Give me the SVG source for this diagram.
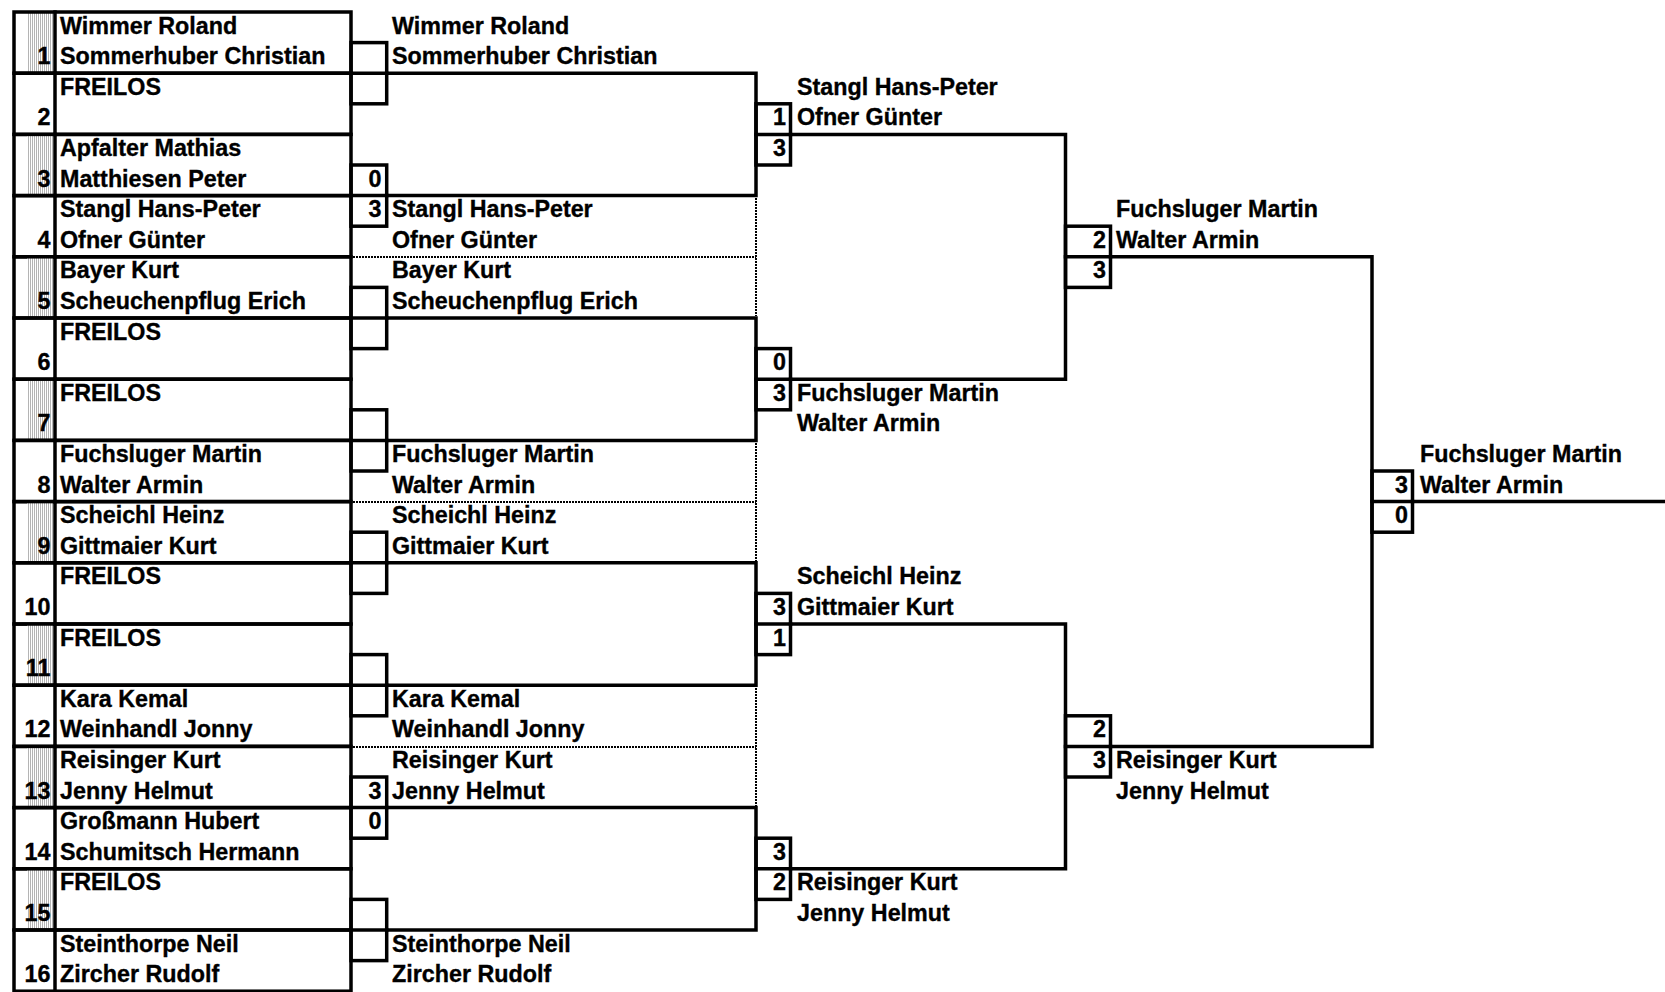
<svg xmlns="http://www.w3.org/2000/svg" width="1665" height="992" viewBox="0 0 1665 992">
<defs>
<pattern id="hatch" patternUnits="userSpaceOnUse" width="2" height="2">
<rect width="2" height="2" fill="#ffffff"/>
<rect width="1" height="2" fill="#b4b4b4"/>
</pattern>
</defs>
<style>
text { font-family: "Liberation Sans", Arial, sans-serif; font-weight: bold; font-size: 23.3px; fill: #000; stroke: #000; stroke-width: 0.35px; }
.num, .sc { text-anchor: end; }
.ln { stroke: #000; stroke-width: 3.5; fill: none; stroke-linecap: square; }
.dot { stroke: #000; stroke-width: 2; stroke-dasharray: 2 1; fill: none; }
.shade { fill: url(#hatch); }
</style>
<rect width="1665" height="992" fill="#fff"/>

<g id="players">
<g id="p1"><rect class="shade" x="27" y="12" width="26" height="61.2"/><rect class="ln" x="14" y="12" width="337" height="61.2"/><line class="ln" x1="55" y1="12" x2="55" y2="73.2"/><text class="num" x="50.5" y="64.1">1</text><text x="60" y="33.5">Wimmer Roland</text><text x="60" y="64.1">Sommerhuber Christian</text></g>
<g id="p2"><rect class="ln" x="14" y="73.2" width="337" height="61.2"/><line class="ln" x1="55" y1="73.2" x2="55" y2="134.4"/><text class="num" x="50.5" y="125.3">2</text><text x="60" y="94.7">FREILOS</text></g>
<g id="p3"><rect class="shade" x="27" y="134.4" width="26" height="61.2"/><rect class="ln" x="14" y="134.4" width="337" height="61.2"/><line class="ln" x1="55" y1="134.4" x2="55" y2="195.6"/><text class="num" x="50.5" y="186.5">3</text><text x="60" y="155.9">Apfalter Mathias</text><text x="60" y="186.5">Matthiesen Peter</text></g>
<g id="p4"><rect class="ln" x="14" y="195.6" width="337" height="61.2"/><line class="ln" x1="55" y1="195.6" x2="55" y2="256.8"/><text class="num" x="50.5" y="247.7">4</text><text x="60" y="217.1">Stangl Hans-Peter</text><text x="60" y="247.7">Ofner Günter</text></g>
<g id="p5"><rect class="shade" x="27" y="256.8" width="26" height="61.2"/><rect class="ln" x="14" y="256.8" width="337" height="61.2"/><line class="ln" x1="55" y1="256.8" x2="55" y2="318"/><text class="num" x="50.5" y="308.9">5</text><text x="60" y="278.3">Bayer Kurt</text><text x="60" y="308.9">Scheuchenpflug Erich</text></g>
<g id="p6"><rect class="ln" x="14" y="318" width="337" height="61.2"/><line class="ln" x1="55" y1="318" x2="55" y2="379.2"/><text class="num" x="50.5" y="370.1">6</text><text x="60" y="339.5">FREILOS</text></g>
<g id="p7"><rect class="shade" x="27" y="379.2" width="26" height="61.2"/><rect class="ln" x="14" y="379.2" width="337" height="61.2"/><line class="ln" x1="55" y1="379.2" x2="55" y2="440.4"/><text class="num" x="50.5" y="431.3">7</text><text x="60" y="400.7">FREILOS</text></g>
<g id="p8"><rect class="ln" x="14" y="440.4" width="337" height="61.2"/><line class="ln" x1="55" y1="440.4" x2="55" y2="501.6"/><text class="num" x="50.5" y="492.5">8</text><text x="60" y="461.9">Fuchsluger Martin</text><text x="60" y="492.5">Walter Armin</text></g>
<g id="p9"><rect class="shade" x="27" y="501.6" width="26" height="61.2"/><rect class="ln" x="14" y="501.6" width="337" height="61.2"/><line class="ln" x1="55" y1="501.6" x2="55" y2="562.8"/><text class="num" x="50.5" y="553.7">9</text><text x="60" y="523.1">Scheichl Heinz</text><text x="60" y="553.7">Gittmaier Kurt</text></g>
<g id="p10"><rect class="ln" x="14" y="562.8" width="337" height="61.2"/><line class="ln" x1="55" y1="562.8" x2="55" y2="624"/><text class="num" x="50.5" y="614.9">10</text><text x="60" y="584.3">FREILOS</text></g>
<g id="p11"><rect class="shade" x="27" y="624" width="26" height="61.2"/><rect class="ln" x="14" y="624" width="337" height="61.2"/><line class="ln" x1="55" y1="624" x2="55" y2="685.2"/><text class="num" x="50.5" y="676.1">11</text><text x="60" y="645.5">FREILOS</text></g>
<g id="p12"><rect class="ln" x="14" y="685.2" width="337" height="61.2"/><line class="ln" x1="55" y1="685.2" x2="55" y2="746.4"/><text class="num" x="50.5" y="737.3">12</text><text x="60" y="706.7">Kara Kemal</text><text x="60" y="737.3">Weinhandl Jonny</text></g>
<g id="p13"><rect class="shade" x="27" y="746.4" width="26" height="61.2"/><rect class="ln" x="14" y="746.4" width="337" height="61.2"/><line class="ln" x1="55" y1="746.4" x2="55" y2="807.6"/><text class="num" x="50.5" y="798.5">13</text><text x="60" y="767.9">Reisinger Kurt</text><text x="60" y="798.5">Jenny Helmut</text></g>
<g id="p14"><rect class="ln" x="14" y="807.6" width="337" height="61.2"/><line class="ln" x1="55" y1="807.6" x2="55" y2="868.8"/><text class="num" x="50.5" y="859.7">14</text><text x="60" y="829.1">Großmann Hubert</text><text x="60" y="859.7">Schumitsch Hermann</text></g>
<g id="p15"><rect class="shade" x="27" y="868.8" width="26" height="61.2"/><rect class="ln" x="14" y="868.8" width="337" height="61.2"/><line class="ln" x1="55" y1="868.8" x2="55" y2="930"/><text class="num" x="50.5" y="920.9">15</text><text x="60" y="890.3">FREILOS</text></g>
<g id="p16"><rect class="ln" x="14" y="930" width="337" height="61.2"/><line class="ln" x1="55" y1="930" x2="55" y2="991.2"/><text class="num" x="50.5" y="982.1">16</text><text x="60" y="951.5">Steinthorpe Neil</text><text x="60" y="982.1">Zircher Rudolf</text></g>
</g>

<g id="connectors">
<path class="ln" d="M386.7 73.2 H756 V195.6 H386.7"/>
<path class="ln" d="M386.7 318 H756 V440.4 H386.7"/>
<path class="ln" d="M386.7 562.8 H756 V685.2 H386.7"/>
<path class="ln" d="M386.7 807.6 H756 V930 H386.7"/>
<path class="ln" d="M790.5 134.4 H1065.5 V379.2 H790.5"/>
<path class="ln" d="M790.5 624 H1065.5 V868.8 H790.5"/>
<path class="ln" d="M1110.5 256.8 H1372 V746.4 H1110.5"/>
<path class="ln" d="M1412.5 501.6 H1665"/>
<path class="dot" d="M756 198 V316 M353 257 H756"/>
<path class="dot" d="M756 443 V561 M353 502 H756"/>
<path class="dot" d="M756 688 V806 M353 747 H756"/>
</g>

<g id="round1">
<g id="r1m1"><rect class="ln" x="351" y="42.6" width="35.7" height="61.2"/><line class="ln" x1="351" y1="73.2" x2="386.7" y2="73.2"/></g>
<g id="r1m2"><rect class="ln" x="351" y="165" width="35.7" height="61.2"/><line class="ln" x1="351" y1="195.6" x2="386.7" y2="195.6"/><text class="sc" x="381.5" y="186.5">0</text><text class="sc" x="381.5" y="217.1">3</text></g>
<g id="r1m3"><rect class="ln" x="351" y="287.4" width="35.7" height="61.2"/><line class="ln" x1="351" y1="318" x2="386.7" y2="318"/></g>
<g id="r1m4"><rect class="ln" x="351" y="409.8" width="35.7" height="61.2"/><line class="ln" x1="351" y1="440.4" x2="386.7" y2="440.4"/></g>
<g id="r1m5"><rect class="ln" x="351" y="532.2" width="35.7" height="61.2"/><line class="ln" x1="351" y1="562.8" x2="386.7" y2="562.8"/></g>
<g id="r1m6"><rect class="ln" x="351" y="654.6" width="35.7" height="61.2"/><line class="ln" x1="351" y1="685.2" x2="386.7" y2="685.2"/></g>
<g id="r1m7"><rect class="ln" x="351" y="777" width="35.7" height="61.2"/><line class="ln" x1="351" y1="807.6" x2="386.7" y2="807.6"/><text class="sc" x="381.5" y="798.5">3</text><text class="sc" x="381.5" y="829.1">0</text></g>
<g id="r1m8"><rect class="ln" x="351" y="899.4" width="35.7" height="61.2"/><line class="ln" x1="351" y1="930" x2="386.7" y2="930"/></g>
</g>

<g id="round1-winners">
<g id="w1a"><text x="392" y="33.5">Wimmer Roland</text><text x="392" y="64.1">Sommerhuber Christian</text></g>
<g id="w1b"><text x="392" y="217.1">Stangl Hans-Peter</text><text x="392" y="247.7">Ofner Günter</text></g>
<g id="w1c"><text x="392" y="278.3">Bayer Kurt</text><text x="392" y="308.9">Scheuchenpflug Erich</text></g>
<g id="w1d"><text x="392" y="461.9">Fuchsluger Martin</text><text x="392" y="492.5">Walter Armin</text></g>
<g id="w1e"><text x="392" y="523.1">Scheichl Heinz</text><text x="392" y="553.7">Gittmaier Kurt</text></g>
<g id="w1f"><text x="392" y="706.7">Kara Kemal</text><text x="392" y="737.3">Weinhandl Jonny</text></g>
<g id="w1g"><text x="392" y="767.9">Reisinger Kurt</text><text x="392" y="798.5">Jenny Helmut</text></g>
<g id="w1h"><text x="392" y="951.5">Steinthorpe Neil</text><text x="392" y="982.1">Zircher Rudolf</text></g>
</g>

<g id="round2">
<g id="r2m1"><rect class="ln" x="756" y="103.8" width="34.5" height="61.2"/><line class="ln" x1="756" y1="134.4" x2="790.5" y2="134.4"/><text class="sc" x="786" y="125.3">1</text><text class="sc" x="786" y="155.9">3</text><text x="797" y="94.7">Stangl Hans-Peter</text><text x="797" y="125.3">Ofner Günter</text></g>
<g id="r2m2"><rect class="ln" x="756" y="348.6" width="34.5" height="61.2"/><line class="ln" x1="756" y1="379.2" x2="790.5" y2="379.2"/><text class="sc" x="786" y="370.1">0</text><text class="sc" x="786" y="400.7">3</text><text x="797" y="400.7">Fuchsluger Martin</text><text x="797" y="431.3">Walter Armin</text></g>
<g id="r2m3"><rect class="ln" x="756" y="593.4" width="34.5" height="61.2"/><line class="ln" x1="756" y1="624" x2="790.5" y2="624"/><text class="sc" x="786" y="614.9">3</text><text class="sc" x="786" y="645.5">1</text><text x="797" y="584.3">Scheichl Heinz</text><text x="797" y="614.9">Gittmaier Kurt</text></g>
<g id="r2m4"><rect class="ln" x="756" y="838.2" width="34.5" height="61.2"/><line class="ln" x1="756" y1="868.8" x2="790.5" y2="868.8"/><text class="sc" x="786" y="859.7">3</text><text class="sc" x="786" y="890.3">2</text><text x="797" y="890.3">Reisinger Kurt</text><text x="797" y="920.9">Jenny Helmut</text></g>
</g>

<g id="round3">
<g id="r3m1"><rect class="ln" x="1065.5" y="226.2" width="45" height="61.2"/><line class="ln" x1="1065.5" y1="256.8" x2="1110.5" y2="256.8"/><text class="sc" x="1106" y="247.7">2</text><text class="sc" x="1106" y="278.3">3</text><text x="1116" y="217.1">Fuchsluger Martin</text><text x="1116" y="247.7">Walter Armin</text></g>
<g id="r3m2"><rect class="ln" x="1065.5" y="715.8" width="45" height="61.2"/><line class="ln" x1="1065.5" y1="746.4" x2="1110.5" y2="746.4"/><text class="sc" x="1106" y="737.3">2</text><text class="sc" x="1106" y="767.9">3</text><text x="1116" y="767.9">Reisinger Kurt</text><text x="1116" y="798.5">Jenny Helmut</text></g>
</g>

<g id="final">
<rect class="ln" x="1372" y="471" width="40.5" height="61.2"/><line class="ln" x1="1372" y1="501.6" x2="1412.5" y2="501.6"/><text class="sc" x="1408" y="492.5">3</text><text class="sc" x="1408" y="523.1">0</text><text x="1420" y="461.9">Fuchsluger Martin</text><text x="1420" y="492.5">Walter Armin</text>
</g>
</svg>
